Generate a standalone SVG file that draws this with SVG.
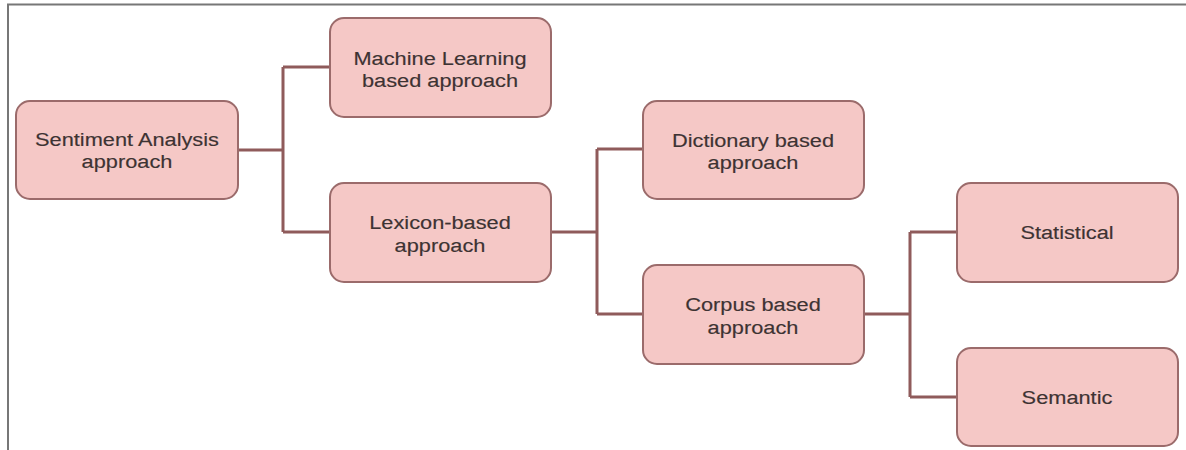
<svg xmlns="http://www.w3.org/2000/svg" width="1186" height="450" viewBox="0 0 1186 450">
<style>
.box{fill:#f5c8c6;stroke:#9b6b6b;stroke-width:2}
.lbl{font-family:"Liberation Sans",Arial,sans-serif;font-size:18px;fill:#3d3333;stroke:#3d3333;stroke-width:0.15;text-anchor:middle}
.con{fill:none;stroke:#8f5b5b;stroke-width:3}
.frame{fill:none;stroke:#777;stroke-width:2}
</style>
<rect width="1186" height="450" fill="#fff"/>
<path class="frame" d="M8,450 V4.5 H1186"/>
<g id="connectors">
<path class="con" d="M238,150 H283 M283,67 V232 M283,67 H330 M283,232 H330"/>
<path class="con" d="M551,232 H597 M597,149 V314 M597,149 H643 M597,314 H643"/>
<path class="con" d="M864,314 H910 M910,232 V397 M910,232 H957 M910,397 H957"/>
</g>
<g id="sentiment">
<rect class="box" x="16" y="101" width="222" height="98" rx="14"/>
<text class="lbl" transform="translate(127,146) scale(1.21,1)">Sentiment Analysis</text>
<text class="lbl" transform="translate(127,168) scale(1.21,1)">approach</text>
</g>
<g id="machine-learning">
<rect class="box" x="330" y="18" width="221" height="99" rx="14"/>
<text class="lbl" transform="translate(440,65) scale(1.21,1)">Machine Learning</text>
<text class="lbl" transform="translate(440,87) scale(1.21,1)">based approach</text>
</g>
<g id="lexicon">
<rect class="box" x="330" y="183" width="221" height="99" rx="14"/>
<text class="lbl" transform="translate(440,229) scale(1.21,1)">Lexicon-based</text>
<text class="lbl" transform="translate(440,252) scale(1.21,1)">approach</text>
</g>
<g id="dictionary">
<rect class="box" x="643" y="101" width="221" height="98" rx="14"/>
<text class="lbl" transform="translate(753,147) scale(1.21,1)">Dictionary based</text>
<text class="lbl" transform="translate(753,169) scale(1.21,1)">approach</text>
</g>
<g id="corpus">
<rect class="box" x="643" y="265" width="221" height="99" rx="14"/>
<text class="lbl" transform="translate(753,311) scale(1.21,1)">Corpus based</text>
<text class="lbl" transform="translate(753,334) scale(1.21,1)">approach</text>
</g>
<g id="statistical">
<rect class="box" x="957" y="183" width="221" height="99" rx="14"/>
<text class="lbl" transform="translate(1067,239) scale(1.21,1)">Statistical</text>
</g>
<g id="semantic">
<rect class="box" x="957" y="348" width="221" height="98" rx="14"/>
<text class="lbl" transform="translate(1067,404) scale(1.21,1)">Semantic</text>
</g>
</svg>
